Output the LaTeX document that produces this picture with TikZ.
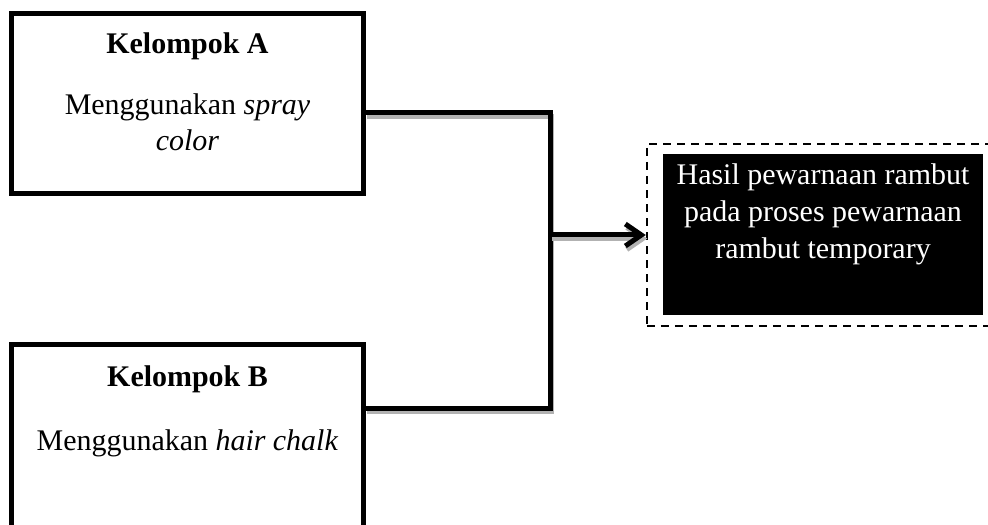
\documentclass[tikz,border=0pt]{standalone}
\usepackage{fontspec}
\setmainfont{Liberation Serif}
\usetikzlibrary{calc,arrows.meta}
\begin{document}
\begin{tikzpicture}[x=0.025cm, y=-0.025cm,
		every node/.style = {inner sep=0pt, align=center,
			font=\fontsize{21.3}{25}\selectfont},
		groupbox/.style = {draw, line width=0.125cm,
			minimum width=8.775cm, minimum height=4.475cm},
		link/.style = {line width=0.125cm,
			preaction={draw=gray!60, line width=0.125cm,
				transform canvas={shift={(1.5,3.5)}}}}]
		\useasboundingbox (0,0) rectangle (988,525);
		\clip (0,0) rectangle (988,525);
		% the two groups
		\node[groupbox] (ka) at (187.5,103.5) {};
		\node[groupbox, minimum height=5cm] (kb) at (187.5,445) {};
		\node[anchor=north] (katext) at ($(ka.north)+(0,20.5)$)
			{\textbf{Kelompok A}\\[19pt] Menggunakan \textit{spray}\\ \textit{color}};
		\node[anchor=north] (kbtext) at ($(kb.north)+(0,22.5)$)
			{\textbf{Kelompok B}\\[21pt] Menggunakan \textit{hair chalk}};
		% result
		\node[draw, dashed, dash pattern=on 0.21cm off 0.14cm, line width=0.06cm,
			minimum width=8.7cm, minimum height=4.55cm] (hasil) at (821,235) {};
		\node[fill=black, minimum width=8cm, minimum height=4.025cm] (hasilfill) at (823,234.5) {};
		\node[anchor=north, text=white, font=\fontsize{21.3}{26.3}\selectfont] (hasiltext) at (823,163)
			{Hasil pewarnaan rambut\\ pada proses pewarnaan\\ rambut temporary};
		% connectors
		\coordinate (join) at (550,235);
		\draw[link] ($(ka.east)+(0,9.5)$) -| (join) |- ($(kb.east)+(0,-37)$);
		\draw[link, -{Straight Barb[length=0.4cm, width=0.55cm]}] (join) -- (hasil.west);
	\end{tikzpicture}
\end{document}
